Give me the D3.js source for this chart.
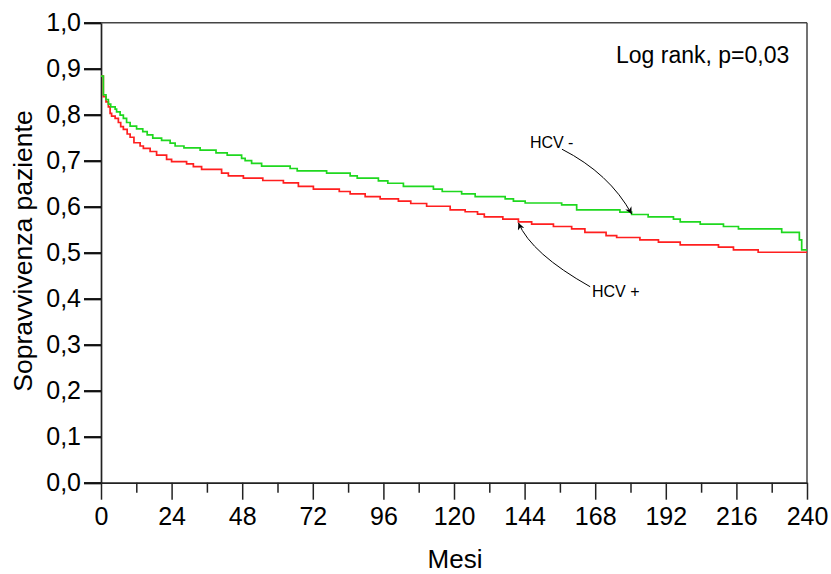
<!DOCTYPE html>
<html>
<head>
<meta charset="utf-8">
<script src="https://cdn.jsdelivr.net/npm/d3@7"></script>
<style>
  html, body { margin: 0; padding: 0; background: #fff; }
  svg { display: block; font-family: "Liberation Sans", Arial, sans-serif; }
</style>
</head>
<body>
<svg id="chart" width="831" height="574"></svg>
<script>
// Kaplan–Meier survival by HCV status (months, cumulative survival)
const hcvNegMonths = [0, 0.8, 1.7, 2.5, 3.3, 4.8, 5.3, 6.5, 7.6, 8.7, 9.9, 12.1, 14.2, 15.7, 17.6, 20.6, 23.5, 25.2, 28.2, 33.7, 39.1, 42.9, 47.8, 49.0, 51.2, 54.6, 64.3, 66.7, 76.7, 84.7, 87.1, 94.3, 97.5, 102.8, 113.0, 116.0, 122.6, 127.2, 137.4, 140.2, 144.2, 156.6, 161.7, 176.4, 180.4, 186.0, 194.6, 196.9, 203.7, 211.6, 216.7, 231.4, 237.4, 238.2, 240];
const hcvNegSurv   = [0.884, 0.843, 0.833, 0.823, 0.817, 0.812, 0.806, 0.799, 0.792, 0.783, 0.775, 0.769, 0.763, 0.756, 0.749, 0.744, 0.738, 0.732, 0.728, 0.723, 0.717, 0.712, 0.705, 0.700, 0.694, 0.688, 0.683, 0.678, 0.673, 0.667, 0.662, 0.656, 0.651, 0.644, 0.638, 0.633, 0.628, 0.622, 0.617, 0.612, 0.608, 0.604, 0.593, 0.588, 0.583, 0.578, 0.573, 0.567, 0.562, 0.557, 0.552, 0.544, 0.528, 0.506, 0.506];

const hcvPosMonths = [0, 0.8, 1.7, 2.5, 3.1, 3.6, 4.8, 5.9, 6.7, 7.6, 8.9, 9.9, 11.2, 13.3, 14.4, 16.7, 18.9, 22.3, 24.0, 29.1, 31.4, 34.2, 41.0, 43.3, 48.4, 55.0, 62.0, 67.1, 72.2, 81.0, 84.7, 89.8, 94.9, 101.1, 105.3, 110.7, 118.7, 123.8, 128.0, 130.3, 136.6, 141.9, 146.4, 153.8, 160.0, 164.5, 171.7, 175.3, 183.2, 189.5, 196.9, 209.9, 215.0, 223.4, 240];
const hcvPosSurv   = [0.884, 0.839, 0.828, 0.817, 0.803, 0.797, 0.792, 0.783, 0.774, 0.768, 0.758, 0.751, 0.739, 0.732, 0.727, 0.720, 0.712, 0.703, 0.698, 0.693, 0.687, 0.681, 0.673, 0.667, 0.662, 0.657, 0.652, 0.644, 0.638, 0.633, 0.628, 0.622, 0.617, 0.612, 0.607, 0.601, 0.593, 0.589, 0.584, 0.578, 0.573, 0.567, 0.562, 0.557, 0.552, 0.544, 0.537, 0.533, 0.528, 0.523, 0.517, 0.512, 0.506, 0.501, 0.501];

const xTicks = [0, 24, 48, 72, 96, 120, 144, 168, 192, 216, 240];
const xMinorTicks = [12, 36, 60, 84, 108, 132, 156, 180, 204, 228];
const yTicks = [0, 0.1, 0.2, 0.3, 0.4, 0.5, 0.6, 0.7, 0.8, 0.9, 1.0];

const xTitle = "Mesi";
const yTitle = "Sopravvivenza paziente";
const testLabel = "Log rank, p=0,03";

// Callout labels: text anchor, arrow start, bend and tip, in data units
const callouts = [
  { label: "HCV -", text: [145.8, 0.727], from: [156.7, 0.725], bend: [172.9, 0.672], to: [180.4, 0.584] },
  { label: "HCV +", text: [166.9, 0.403], from: [166.3, 0.426], bend: [146.3, 0.498], to: [141.9, 0.565] }
];

const svg = d3.select("#chart");
const x = d3.scaleLinear().domain([0, 240]).range([101, 807]);
const y = d3.scaleLinear().domain([0, 1]).range([482.7, 22.7]);

const itLocale = d3.formatLocale({ decimal: ",", thousands: ".", grouping: [3], currency: ["", "€"] });
const fmt = itLocale.format(".1f");

// Frame: top and right edges
svg.append("line")
  .attr("x1", x(0)).attr("x2", x(240)).attr("y1", y(1)).attr("y2", y(1))
  .attr("stroke", "#444").attr("stroke-width", 1.5);
svg.append("line")
  .attr("x1", x(240)).attr("x2", x(240)).attr("y1", y(1)).attr("y2", y(0))
  .attr("stroke", "#444").attr("stroke-width", 1.5);

// Y axis
const yAxis = svg.append("g")
  .attr("transform", `translate(${x(0)},0)`)
  .call(d3.axisLeft(y).tickValues(yTicks).tickFormat(fmt).tickSize(17).tickSizeOuter(0).tickPadding(3));
yAxis.select(".domain").attr("stroke", "#222").attr("stroke-width", 1.7);
yAxis.selectAll(".tick line").attr("stroke", "#111").attr("stroke-width", 2.3);
yAxis.selectAll(".tick text")
  .attr("font-size", 25).attr("fill", "#000")
  .attr("font-family", "'Liberation Sans', Arial, sans-serif");

// X axis, minor ticks first
const xMinor = svg.append("g")
  .attr("transform", `translate(0,${y(0)})`)
  .call(d3.axisBottom(x).tickValues(xMinorTicks).tickFormat("").tickSize(10).tickSizeOuter(0));
xMinor.select(".domain").remove();
xMinor.selectAll(".tick line").attr("stroke", "#222").attr("stroke-width", 1.5);

const xAxis = svg.append("g")
  .attr("transform", `translate(0,${y(0)})`)
  .call(d3.axisBottom(x).tickValues(xTicks).tickFormat(d3.format("d")).tickSize(17).tickSizeOuter(0).tickPadding(8));
xAxis.select(".domain").attr("stroke", "#222").attr("stroke-width", 1.7);
xAxis.selectAll(".tick line").attr("stroke", "#222").attr("stroke-width", 1.5);
xAxis.selectAll(".tick text")
  .attr("font-size", 25).attr("fill", "#000")
  .attr("font-family", "'Liberation Sans', Arial, sans-serif");

// Axis titles
svg.append("text")
  .attr("x", 455).attr("y", 568)
  .attr("text-anchor", "middle")
  .attr("font-size", 26).attr("fill", "#000")
  .text(xTitle);
svg.append("text")
  .attr("transform", "translate(32,251) rotate(-90)")
  .attr("text-anchor", "middle")
  .attr("font-size", 26.5).attr("fill", "#000")
  .text(yTitle);

// Survival curves
const line = d3.line()
  .x(d => x(d[0]))
  .y(d => y(d[1]))
  .curve(d3.curveStepAfter);

svg.append("path")
  .datum(hcvPosMonths.map((m, i) => [m, hcvPosSurv[i]]))
  .attr("d", line)
  .attr("fill", "none")
  .attr("stroke", "#ff1f1f")
  .attr("stroke-width", 1.7);

svg.append("path")
  .datum(hcvNegMonths.map((m, i) => [m, hcvNegSurv[i]]))
  .attr("d", line)
  .attr("fill", "none")
  .attr("stroke", "#1fd81f")
  .attr("stroke-width", 1.7);

// Test result
svg.append("text")
  .attr("x", 616).attr("y", 63)
  .attr("font-size", 23).attr("fill", "#000")
  .text(testLabel);

// Arrowhead marker
svg.append("defs").append("marker")
  .attr("id", "arrowhead")
  .attr("viewBox", "0 0 10 10")
  .attr("refX", 10).attr("refY", 5)
  .attr("markerWidth", 11).attr("markerHeight", 7)
  .attr("markerUnits", "userSpaceOnUse")
  .attr("orient", "auto")
  .append("path")
  .attr("d", "M0,0 L10,5 L0,10 L3,5 Z")
  .attr("fill", "#000");

callouts.forEach(c => {
  const p = d3.path();
  p.moveTo(x(c.from[0]), y(c.from[1]));
  p.quadraticCurveTo(x(c.bend[0]), y(c.bend[1]), x(c.to[0]), y(c.to[1]));
  svg.append("path")
    .attr("d", p.toString())
    .attr("fill", "none")
    .attr("stroke", "#000")
    .attr("stroke-width", 1)
    .attr("marker-end", "url(#arrowhead)");
  svg.append("text")
    .attr("x", x(c.text[0])).attr("y", y(c.text[1]))
    .attr("font-size", 16).attr("fill", "#000")
    .text(c.label);
});
</script>
</body>
</html>
